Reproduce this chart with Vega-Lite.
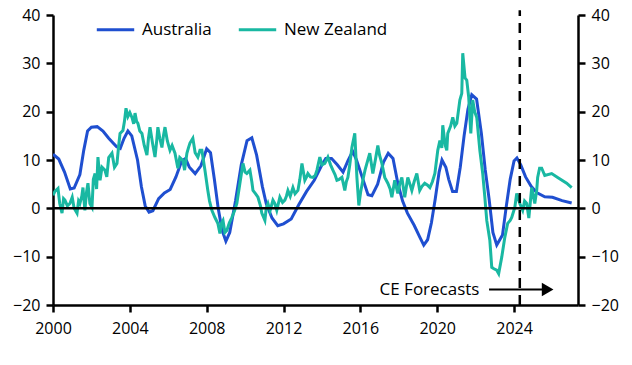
{
  "$schema": "https://vega.github.io/schema/vega-lite/v6.json",
  "width": 525,
  "height": 290,
  "autosize": {"type": "none"},
  "padding": {"left": 53, "top": 15, "right": 54, "bottom": 60},
  "background": "white",
  "config": {
    "view": {"stroke": null},
    "font": "Open Sans",
    "axis": {"grid": false, "domainColor": "black", "domainWidth": 2.5, "tickColor": "black", "tickWidth": 2.5, "tickSize": 7, "labelFont": "Open Sans", "labelFontSize": 16, "labelColor": "black", "title": null}
  },
  "datasets": {
    "series": [
      {"s": "Australia", "x": 2000.0, "y": 11.2},
      {"s": "Australia", "x": 2000.3, "y": 10.2},
      {"s": "Australia", "x": 2000.6, "y": 7.5},
      {"s": "Australia", "x": 2000.9, "y": 4.0},
      {"s": "Australia", "x": 2001.1, "y": 4.2},
      {"s": "Australia", "x": 2001.4, "y": 7.0},
      {"s": "Australia", "x": 2001.6, "y": 12.0},
      {"s": "Australia", "x": 2001.8, "y": 16.0},
      {"s": "Australia", "x": 2002.0, "y": 16.8},
      {"s": "Australia", "x": 2002.3, "y": 16.9},
      {"s": "Australia", "x": 2002.6, "y": 16.0},
      {"s": "Australia", "x": 2002.9, "y": 14.5},
      {"s": "Australia", "x": 2003.3, "y": 12.8},
      {"s": "Australia", "x": 2003.5, "y": 12.4},
      {"s": "Australia", "x": 2003.7, "y": 14.5},
      {"s": "Australia", "x": 2003.9, "y": 16.0},
      {"s": "Australia", "x": 2004.1, "y": 15.0},
      {"s": "Australia", "x": 2004.4, "y": 10.0},
      {"s": "Australia", "x": 2004.6, "y": 4.5},
      {"s": "Australia", "x": 2004.8, "y": 0.5},
      {"s": "Australia", "x": 2005.0, "y": -0.8},
      {"s": "Australia", "x": 2005.2, "y": -0.5},
      {"s": "Australia", "x": 2005.5, "y": 2.0},
      {"s": "Australia", "x": 2005.8, "y": 3.2},
      {"s": "Australia", "x": 2006.1, "y": 3.9},
      {"s": "Australia", "x": 2006.4, "y": 6.5},
      {"s": "Australia", "x": 2006.7, "y": 9.8},
      {"s": "Australia", "x": 2006.9, "y": 10.3},
      {"s": "Australia", "x": 2007.1, "y": 8.5},
      {"s": "Australia", "x": 2007.4, "y": 7.2},
      {"s": "Australia", "x": 2007.7, "y": 8.8},
      {"s": "Australia", "x": 2008.0, "y": 12.3},
      {"s": "Australia", "x": 2008.2, "y": 11.5},
      {"s": "Australia", "x": 2008.4, "y": 6.0},
      {"s": "Australia", "x": 2008.6, "y": 0.0},
      {"s": "Australia", "x": 2008.8, "y": -4.5},
      {"s": "Australia", "x": 2009.0, "y": -6.8},
      {"s": "Australia", "x": 2009.2, "y": -5.0},
      {"s": "Australia", "x": 2009.5, "y": 1.5},
      {"s": "Australia", "x": 2009.8, "y": 9.0},
      {"s": "Australia", "x": 2010.1, "y": 14.0},
      {"s": "Australia", "x": 2010.35, "y": 14.6},
      {"s": "Australia", "x": 2010.6, "y": 11.0},
      {"s": "Australia", "x": 2010.9, "y": 4.5},
      {"s": "Australia", "x": 2011.1, "y": 1.0},
      {"s": "Australia", "x": 2011.4, "y": -2.0},
      {"s": "Australia", "x": 2011.7, "y": -3.6},
      {"s": "Australia", "x": 2012.0, "y": -3.2},
      {"s": "Australia", "x": 2012.4, "y": -2.2},
      {"s": "Australia", "x": 2012.8, "y": 0.8},
      {"s": "Australia", "x": 2013.2, "y": 3.5},
      {"s": "Australia", "x": 2013.6, "y": 5.8},
      {"s": "Australia", "x": 2014.0, "y": 9.0},
      {"s": "Australia", "x": 2014.2, "y": 10.3},
      {"s": "Australia", "x": 2014.5, "y": 10.3},
      {"s": "Australia", "x": 2014.8, "y": 9.0},
      {"s": "Australia", "x": 2015.1, "y": 7.5},
      {"s": "Australia", "x": 2015.35, "y": 9.8},
      {"s": "Australia", "x": 2015.6, "y": 11.8},
      {"s": "Australia", "x": 2015.8, "y": 10.0},
      {"s": "Australia", "x": 2016.1, "y": 6.4},
      {"s": "Australia", "x": 2016.4, "y": 2.8},
      {"s": "Australia", "x": 2016.6, "y": 2.6},
      {"s": "Australia", "x": 2016.9, "y": 5.0},
      {"s": "Australia", "x": 2017.2, "y": 9.5},
      {"s": "Australia", "x": 2017.45, "y": 11.4},
      {"s": "Australia", "x": 2017.7, "y": 10.3},
      {"s": "Australia", "x": 2017.95, "y": 5.2},
      {"s": "Australia", "x": 2018.2, "y": 1.5},
      {"s": "Australia", "x": 2018.45, "y": -1.0},
      {"s": "Australia", "x": 2018.8, "y": -3.5},
      {"s": "Australia", "x": 2019.1, "y": -6.0},
      {"s": "Australia", "x": 2019.3, "y": -7.6},
      {"s": "Australia", "x": 2019.5, "y": -6.5},
      {"s": "Australia", "x": 2019.7, "y": -3.0},
      {"s": "Australia", "x": 2019.9, "y": 2.0},
      {"s": "Australia", "x": 2020.1, "y": 7.5},
      {"s": "Australia", "x": 2020.25, "y": 10.0},
      {"s": "Australia", "x": 2020.45, "y": 8.5},
      {"s": "Australia", "x": 2020.6, "y": 6.0},
      {"s": "Australia", "x": 2020.8, "y": 3.5},
      {"s": "Australia", "x": 2021.0, "y": 3.5},
      {"s": "Australia", "x": 2021.2, "y": 8.5},
      {"s": "Australia", "x": 2021.4, "y": 15.0},
      {"s": "Australia", "x": 2021.6, "y": 20.5},
      {"s": "Australia", "x": 2021.8, "y": 23.5},
      {"s": "Australia", "x": 2022.05, "y": 22.6},
      {"s": "Australia", "x": 2022.3, "y": 15.5},
      {"s": "Australia", "x": 2022.5, "y": 8.0},
      {"s": "Australia", "x": 2022.7, "y": 2.0},
      {"s": "Australia", "x": 2022.9, "y": -5.0},
      {"s": "Australia", "x": 2023.1, "y": -7.6},
      {"s": "Australia", "x": 2023.4, "y": -5.5},
      {"s": "Australia", "x": 2023.6, "y": 0.5},
      {"s": "Australia", "x": 2023.8, "y": 6.0},
      {"s": "Australia", "x": 2024.0, "y": 9.8},
      {"s": "Australia", "x": 2024.15, "y": 10.4},
      {"s": "Australia", "x": 2024.35, "y": 9.0},
      {"s": "Australia", "x": 2024.6, "y": 6.5},
      {"s": "Australia", "x": 2024.9, "y": 4.5},
      {"s": "Australia", "x": 2025.2, "y": 3.2},
      {"s": "Australia", "x": 2025.6, "y": 2.4},
      {"s": "Australia", "x": 2026.0, "y": 2.3},
      {"s": "Australia", "x": 2026.5, "y": 1.6},
      {"s": "Australia", "x": 2027.0, "y": 1.1},
      {"s": "New Zealand", "x": 2000.0, "y": 2.7},
      {"s": "New Zealand", "x": 2000.1, "y": 3.5},
      {"s": "New Zealand", "x": 2000.26, "y": 4.1},
      {"s": "New Zealand", "x": 2000.35, "y": 1.0},
      {"s": "New Zealand", "x": 2000.47, "y": -1.0},
      {"s": "New Zealand", "x": 2000.55, "y": 2.0},
      {"s": "New Zealand", "x": 2000.62, "y": 1.7},
      {"s": "New Zealand", "x": 2000.75, "y": 0.5},
      {"s": "New Zealand", "x": 2000.88, "y": 1.0},
      {"s": "New Zealand", "x": 2001.0, "y": 2.3},
      {"s": "New Zealand", "x": 2001.1, "y": 0.0},
      {"s": "New Zealand", "x": 2001.25, "y": -1.0},
      {"s": "New Zealand", "x": 2001.33, "y": 1.5},
      {"s": "New Zealand", "x": 2001.4, "y": 1.0},
      {"s": "New Zealand", "x": 2001.5, "y": 2.5},
      {"s": "New Zealand", "x": 2001.56, "y": 4.3},
      {"s": "New Zealand", "x": 2001.66, "y": -0.4},
      {"s": "New Zealand", "x": 2001.75, "y": 3.5},
      {"s": "New Zealand", "x": 2001.82, "y": 5.2},
      {"s": "New Zealand", "x": 2001.92, "y": 1.0},
      {"s": "New Zealand", "x": 2002.03, "y": 0.2},
      {"s": "New Zealand", "x": 2002.1, "y": 6.0},
      {"s": "New Zealand", "x": 2002.19, "y": 7.2},
      {"s": "New Zealand", "x": 2002.27, "y": 4.0},
      {"s": "New Zealand", "x": 2002.34, "y": 10.6},
      {"s": "New Zealand", "x": 2002.45, "y": 5.8},
      {"s": "New Zealand", "x": 2002.55, "y": 8.5},
      {"s": "New Zealand", "x": 2002.7, "y": 7.9},
      {"s": "New Zealand", "x": 2002.8, "y": 6.5},
      {"s": "New Zealand", "x": 2002.9, "y": 10.5},
      {"s": "New Zealand", "x": 2003.07, "y": 11.4},
      {"s": "New Zealand", "x": 2003.2, "y": 8.5},
      {"s": "New Zealand", "x": 2003.33, "y": 9.3},
      {"s": "New Zealand", "x": 2003.42, "y": 13.0},
      {"s": "New Zealand", "x": 2003.49, "y": 15.5},
      {"s": "New Zealand", "x": 2003.64, "y": 16.1},
      {"s": "New Zealand", "x": 2003.72, "y": 18.0},
      {"s": "New Zealand", "x": 2003.8, "y": 20.7},
      {"s": "New Zealand", "x": 2003.9, "y": 19.0},
      {"s": "New Zealand", "x": 2004.0, "y": 19.8},
      {"s": "New Zealand", "x": 2004.11, "y": 18.8},
      {"s": "New Zealand", "x": 2004.2, "y": 17.5},
      {"s": "New Zealand", "x": 2004.27, "y": 19.7},
      {"s": "New Zealand", "x": 2004.35, "y": 18.0},
      {"s": "New Zealand", "x": 2004.42, "y": 17.6},
      {"s": "New Zealand", "x": 2004.52, "y": 16.0},
      {"s": "New Zealand", "x": 2004.63, "y": 15.5},
      {"s": "New Zealand", "x": 2004.75, "y": 13.0},
      {"s": "New Zealand", "x": 2004.89, "y": 11.0},
      {"s": "New Zealand", "x": 2004.97, "y": 14.5},
      {"s": "New Zealand", "x": 2005.05, "y": 16.8},
      {"s": "New Zealand", "x": 2005.18, "y": 13.5},
      {"s": "New Zealand", "x": 2005.31, "y": 10.6},
      {"s": "New Zealand", "x": 2005.4, "y": 14.0},
      {"s": "New Zealand", "x": 2005.46, "y": 16.8},
      {"s": "New Zealand", "x": 2005.56, "y": 14.5},
      {"s": "New Zealand", "x": 2005.67, "y": 12.6},
      {"s": "New Zealand", "x": 2005.75, "y": 15.0},
      {"s": "New Zealand", "x": 2005.83, "y": 16.8},
      {"s": "New Zealand", "x": 2005.95, "y": 14.0},
      {"s": "New Zealand", "x": 2006.09, "y": 12.0},
      {"s": "New Zealand", "x": 2006.2, "y": 13.0},
      {"s": "New Zealand", "x": 2006.35, "y": 11.4},
      {"s": "New Zealand", "x": 2006.5, "y": 8.3},
      {"s": "New Zealand", "x": 2006.6, "y": 10.5},
      {"s": "New Zealand", "x": 2006.76, "y": 9.9},
      {"s": "New Zealand", "x": 2006.85, "y": 7.9},
      {"s": "New Zealand", "x": 2006.97, "y": 11.4},
      {"s": "New Zealand", "x": 2007.05, "y": 12.5},
      {"s": "New Zealand", "x": 2007.13, "y": 13.5},
      {"s": "New Zealand", "x": 2007.28, "y": 14.5},
      {"s": "New Zealand", "x": 2007.4, "y": 11.5},
      {"s": "New Zealand", "x": 2007.54, "y": 10.6},
      {"s": "New Zealand", "x": 2007.65, "y": 12.0},
      {"s": "New Zealand", "x": 2007.75, "y": 12.0},
      {"s": "New Zealand", "x": 2007.91, "y": 7.9},
      {"s": "New Zealand", "x": 2008.06, "y": 3.7},
      {"s": "New Zealand", "x": 2008.15, "y": 1.5},
      {"s": "New Zealand", "x": 2008.27, "y": -0.4},
      {"s": "New Zealand", "x": 2008.43, "y": -1.9},
      {"s": "New Zealand", "x": 2008.58, "y": -3.1},
      {"s": "New Zealand", "x": 2008.69, "y": -5.2},
      {"s": "New Zealand", "x": 2008.78, "y": -3.0},
      {"s": "New Zealand", "x": 2008.85, "y": -2.5},
      {"s": "New Zealand", "x": 2008.95, "y": -5.0},
      {"s": "New Zealand", "x": 2009.05, "y": -4.6},
      {"s": "New Zealand", "x": 2009.18, "y": -3.0},
      {"s": "New Zealand", "x": 2009.31, "y": -1.9},
      {"s": "New Zealand", "x": 2009.45, "y": -0.5},
      {"s": "New Zealand", "x": 2009.57, "y": 1.0},
      {"s": "New Zealand", "x": 2009.73, "y": 5.2},
      {"s": "New Zealand", "x": 2009.89, "y": 9.3},
      {"s": "New Zealand", "x": 2010.0, "y": 7.5},
      {"s": "New Zealand", "x": 2010.09, "y": 7.2},
      {"s": "New Zealand", "x": 2010.25, "y": 7.9},
      {"s": "New Zealand", "x": 2010.35, "y": 5.5},
      {"s": "New Zealand", "x": 2010.41, "y": 3.7},
      {"s": "New Zealand", "x": 2010.55, "y": 3.0},
      {"s": "New Zealand", "x": 2010.67, "y": 2.3},
      {"s": "New Zealand", "x": 2010.8, "y": 0.5},
      {"s": "New Zealand", "x": 2010.87, "y": -1.0},
      {"s": "New Zealand", "x": 2011.03, "y": -2.5},
      {"s": "New Zealand", "x": 2011.1, "y": 0.0},
      {"s": "New Zealand", "x": 2011.19, "y": 1.0},
      {"s": "New Zealand", "x": 2011.3, "y": -0.5},
      {"s": "New Zealand", "x": 2011.45, "y": 1.7},
      {"s": "New Zealand", "x": 2011.55, "y": 1.0},
      {"s": "New Zealand", "x": 2011.65, "y": -0.4},
      {"s": "New Zealand", "x": 2011.81, "y": 2.3},
      {"s": "New Zealand", "x": 2011.95, "y": 1.2},
      {"s": "New Zealand", "x": 2012.07, "y": 1.7},
      {"s": "New Zealand", "x": 2012.15, "y": 2.5},
      {"s": "New Zealand", "x": 2012.23, "y": 3.7},
      {"s": "New Zealand", "x": 2012.35, "y": 2.5},
      {"s": "New Zealand", "x": 2012.49, "y": 4.3},
      {"s": "New Zealand", "x": 2012.6, "y": 3.0},
      {"s": "New Zealand", "x": 2012.75, "y": 3.7},
      {"s": "New Zealand", "x": 2012.85, "y": 6.0},
      {"s": "New Zealand", "x": 2012.96, "y": 9.3},
      {"s": "New Zealand", "x": 2013.11, "y": 5.8},
      {"s": "New Zealand", "x": 2013.2, "y": 6.5},
      {"s": "New Zealand", "x": 2013.27, "y": 7.2},
      {"s": "New Zealand", "x": 2013.4, "y": 6.5},
      {"s": "New Zealand", "x": 2013.53, "y": 6.4},
      {"s": "New Zealand", "x": 2013.65, "y": 6.8},
      {"s": "New Zealand", "x": 2013.74, "y": 7.9},
      {"s": "New Zealand", "x": 2013.89, "y": 10.6},
      {"s": "New Zealand", "x": 2014.0, "y": 9.0},
      {"s": "New Zealand", "x": 2014.15, "y": 9.3},
      {"s": "New Zealand", "x": 2014.31, "y": 10.6},
      {"s": "New Zealand", "x": 2014.45, "y": 9.0},
      {"s": "New Zealand", "x": 2014.57, "y": 7.9},
      {"s": "New Zealand", "x": 2014.68, "y": 7.0},
      {"s": "New Zealand", "x": 2014.78, "y": 5.8},
      {"s": "New Zealand", "x": 2014.9, "y": 6.0},
      {"s": "New Zealand", "x": 2015.04, "y": 6.4},
      {"s": "New Zealand", "x": 2015.12, "y": 5.0},
      {"s": "New Zealand", "x": 2015.19, "y": 3.7},
      {"s": "New Zealand", "x": 2015.27, "y": 5.5},
      {"s": "New Zealand", "x": 2015.35, "y": 6.4},
      {"s": "New Zealand", "x": 2015.45, "y": 9.0},
      {"s": "New Zealand", "x": 2015.56, "y": 12.6},
      {"s": "New Zealand", "x": 2015.71, "y": 15.5},
      {"s": "New Zealand", "x": 2015.82, "y": 6.4},
      {"s": "New Zealand", "x": 2015.92, "y": 0.6},
      {"s": "New Zealand", "x": 2016.02, "y": 3.5},
      {"s": "New Zealand", "x": 2016.13, "y": 5.8},
      {"s": "New Zealand", "x": 2016.25, "y": 8.0},
      {"s": "New Zealand", "x": 2016.34, "y": 9.3},
      {"s": "New Zealand", "x": 2016.49, "y": 11.4},
      {"s": "New Zealand", "x": 2016.65, "y": 7.2},
      {"s": "New Zealand", "x": 2016.78, "y": 10.0},
      {"s": "New Zealand", "x": 2016.91, "y": 13.0},
      {"s": "New Zealand", "x": 2017.0, "y": 11.0},
      {"s": "New Zealand", "x": 2017.12, "y": 9.3},
      {"s": "New Zealand", "x": 2017.27, "y": 6.4},
      {"s": "New Zealand", "x": 2017.43, "y": 5.2},
      {"s": "New Zealand", "x": 2017.55, "y": 4.0},
      {"s": "New Zealand", "x": 2017.64, "y": 2.3},
      {"s": "New Zealand", "x": 2017.79, "y": 5.8},
      {"s": "New Zealand", "x": 2017.95, "y": 3.1},
      {"s": "New Zealand", "x": 2018.05, "y": 5.0},
      {"s": "New Zealand", "x": 2018.16, "y": 6.4},
      {"s": "New Zealand", "x": 2018.31, "y": 2.3},
      {"s": "New Zealand", "x": 2018.47, "y": 6.4},
      {"s": "New Zealand", "x": 2018.58, "y": 5.0},
      {"s": "New Zealand", "x": 2018.68, "y": 3.7},
      {"s": "New Zealand", "x": 2018.8, "y": 5.5},
      {"s": "New Zealand", "x": 2018.94, "y": 7.2},
      {"s": "New Zealand", "x": 2019.09, "y": 3.7},
      {"s": "New Zealand", "x": 2019.2, "y": 4.5},
      {"s": "New Zealand", "x": 2019.35, "y": 5.2},
      {"s": "New Zealand", "x": 2019.5, "y": 4.8},
      {"s": "New Zealand", "x": 2019.62, "y": 4.3},
      {"s": "New Zealand", "x": 2019.75, "y": 5.5},
      {"s": "New Zealand", "x": 2019.88, "y": 7.2},
      {"s": "New Zealand", "x": 2020.03, "y": 12.0},
      {"s": "New Zealand", "x": 2020.14, "y": 14.0},
      {"s": "New Zealand", "x": 2020.24, "y": 12.5},
      {"s": "New Zealand", "x": 2020.29, "y": 17.2},
      {"s": "New Zealand", "x": 2020.42, "y": 13.0},
      {"s": "New Zealand", "x": 2020.5, "y": 12.0},
      {"s": "New Zealand", "x": 2020.55, "y": 15.5},
      {"s": "New Zealand", "x": 2020.7, "y": 17.0},
      {"s": "New Zealand", "x": 2020.81, "y": 18.8},
      {"s": "New Zealand", "x": 2020.92, "y": 17.0},
      {"s": "New Zealand", "x": 2021.02, "y": 17.6},
      {"s": "New Zealand", "x": 2021.1, "y": 20.0},
      {"s": "New Zealand", "x": 2021.18, "y": 22.4},
      {"s": "New Zealand", "x": 2021.28, "y": 23.8},
      {"s": "New Zealand", "x": 2021.33, "y": 32.1},
      {"s": "New Zealand", "x": 2021.45, "y": 27.0},
      {"s": "New Zealand", "x": 2021.54, "y": 26.5},
      {"s": "New Zealand", "x": 2021.64, "y": 23.0},
      {"s": "New Zealand", "x": 2021.75, "y": 15.5},
      {"s": "New Zealand", "x": 2021.85, "y": 22.4},
      {"s": "New Zealand", "x": 2021.95, "y": 20.0},
      {"s": "New Zealand", "x": 2022.06, "y": 18.8},
      {"s": "New Zealand", "x": 2022.15, "y": 15.0},
      {"s": "New Zealand", "x": 2022.22, "y": 12.0},
      {"s": "New Zealand", "x": 2022.37, "y": 7.2},
      {"s": "New Zealand", "x": 2022.48, "y": 2.3},
      {"s": "New Zealand", "x": 2022.58, "y": -2.5},
      {"s": "New Zealand", "x": 2022.74, "y": -6.6},
      {"s": "New Zealand", "x": 2022.84, "y": -12.2},
      {"s": "New Zealand", "x": 2022.95, "y": -12.5},
      {"s": "New Zealand", "x": 2023.1, "y": -12.8},
      {"s": "New Zealand", "x": 2023.2, "y": -13.5},
      {"s": "New Zealand", "x": 2023.36, "y": -10.1},
      {"s": "New Zealand", "x": 2023.52, "y": -6.0},
      {"s": "New Zealand", "x": 2023.67, "y": -3.1},
      {"s": "New Zealand", "x": 2023.8, "y": -2.5},
      {"s": "New Zealand", "x": 2023.88, "y": -1.9},
      {"s": "New Zealand", "x": 2024.04, "y": 0.2},
      {"s": "New Zealand", "x": 2024.14, "y": 3.1},
      {"s": "New Zealand", "x": 2024.3, "y": 1.0},
      {"s": "New Zealand", "x": 2024.45, "y": -0.4},
      {"s": "New Zealand", "x": 2024.55, "y": 1.5},
      {"s": "New Zealand", "x": 2024.66, "y": 1.0},
      {"s": "New Zealand", "x": 2024.77, "y": -2.0},
      {"s": "New Zealand", "x": 2024.92, "y": 4.3},
      {"s": "New Zealand", "x": 2025.08, "y": 1.0},
      {"s": "New Zealand", "x": 2025.18, "y": 3.7},
      {"s": "New Zealand", "x": 2025.23, "y": 6.4},
      {"s": "New Zealand", "x": 2025.33, "y": 8.3},
      {"s": "New Zealand", "x": 2025.44, "y": 8.3},
      {"s": "New Zealand", "x": 2025.6, "y": 6.8},
      {"s": "New Zealand", "x": 2025.96, "y": 7.2},
      {"s": "New Zealand", "x": 2026.27, "y": 6.4},
      {"s": "New Zealand", "x": 2026.74, "y": 5.2},
      {"s": "New Zealand", "x": 2027.0, "y": 4.3}
    ]
  },
  "layer": [
    {
      "data": {"name": "series"},
      "mark": {"type": "line", "strokeWidth": 3, "clip": true},
      "encoding": {
        "x": {"field": "x", "type": "quantitative", "scale": {"domain": [2000, 2027.33], "nice": false, "zero": false},
              "axis": {"values": [2000, 2004, 2008, 2012, 2016, 2020, 2024], "format": "d", "labelPadding": 8, "labelFlush": false}},
        "y": {"field": "y", "type": "quantitative", "scale": {"domain": [-20, 40], "nice": false},
              "axis": {"orient": "left", "values": [-20, -10, 0, 10, 20, 30, 40], "labelPadding": 6}},
        "color": {"field": "s", "type": "nominal", "scale": {"domain": ["Australia", "New Zealand"], "range": ["#1F4FD0", "#19B8A2"]},
                  "legend": {"title": null, "orient": "none", "legendX": 42, "legendY": -6, "direction": "horizontal", "symbolType": "stroke", "symbolSize": 1400, "symbolStrokeWidth": 3, "labelFontSize": 17, "labelFont": "Open Sans", "labelColor": "black", "columnPadding": 20, "labelOffset": 6, "padding": 0}},
        "order": {"field": "x", "type": "quantitative"}
      }
    },
    {
      "data": {"values": [{"y": 0}]},
      "mark": {"type": "rule", "color": "black", "strokeWidth": 2.5},
      "encoding": {"y": {"field": "y", "type": "quantitative", "axis": {"orient": "right", "values": [-20, -10, 0, 10, 20, 30, 40], "labelPadding": 6}}}
    },
    {
      "data": {"values": [{"x": 2024.3, "y": -20, "y2": 41}]},
      "mark": {"type": "rule", "color": "black", "strokeWidth": 2.5, "strokeDash": [10, 7]},
      "encoding": {"x": {"field": "x", "type": "quantitative"}, "y": {"field": "y", "type": "quantitative", "axis": null}, "y2": {"field": "y2"}}
    },
    {
      "data": {"values": [{"x": 2022.2, "y": -16.8, "t": "CE Forecasts"}]},
      "mark": {"type": "text", "align": "right", "baseline": "middle", "fontSize": 17, "font": "Open Sans", "color": "black"},
      "encoding": {"x": {"field": "x", "type": "quantitative"}, "y": {"field": "y", "type": "quantitative", "axis": null}, "text": {"field": "t"}}
    },
    {
      "data": {"values": [{"x": 2022.7, "x2": 2025.6, "y": -16.8}]},
      "mark": {"type": "rule", "color": "black", "strokeWidth": 2},
      "encoding": {"x": {"field": "x", "type": "quantitative"}, "x2": {"field": "x2"}, "y": {"field": "y", "type": "quantitative", "axis": null}}
    },
    {
      "data": {"values": [{"x": 2025.75, "y": -16.8}]},
      "mark": {"type": "point", "shape": "triangle-right", "filled": true, "color": "black", "opacity": 1, "size": 180},
      "encoding": {"x": {"field": "x", "type": "quantitative"}, "y": {"field": "y", "type": "quantitative", "axis": null}}
    }
  ],
  "resolve": {"axis": {"y": "independent"}}
}
